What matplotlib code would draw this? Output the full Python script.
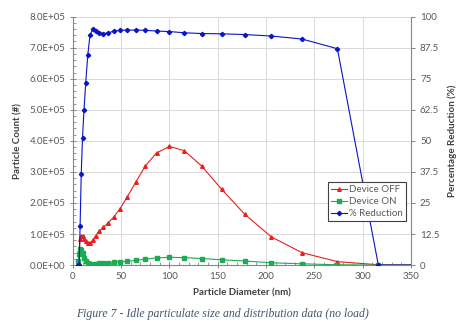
import matplotlib
matplotlib.use("Agg")
import matplotlib.pyplot as plt
from matplotlib.ticker import MultipleLocator, FuncFormatter, AutoMinorLocator
from matplotlib.lines import Line2D

# Particle diameter bins (nm)
diameter = [5.62, 6.49, 7.50, 8.66, 10.0, 11.55, 13.34, 15.4, 17.78, 20.54,
            23.71, 27.38, 31.62, 36.52, 42.17, 48.7, 56.23, 64.94, 74.99, 86.6,
            100.0, 115.48, 133.35, 154.0, 177.83, 205.35, 237.14, 273.84, 316.23, 365.17]

# Device OFF particle count (#)
device_off = [0.02e5, 0.45e5, 0.85e5, 0.93e5, 0.93e5, 0.85e5, 0.78e5, 0.72e5, 0.70e5, 0.80e5,
              0.95e5, 1.10e5, 1.22e5, 1.36e5, 1.54e5, 1.81e5, 2.19e5, 2.66e5, 3.19e5, 3.61e5,
              3.82e5, 3.68e5, 3.19e5, 2.44e5, 1.64e5, 0.91e5, 0.40e5, 0.11e5, 0.01e5, 0.0]

# Device ON particle count (#)
device_on = [0.12e5, 0.35e5, 0.52e5, 0.50e5, 0.38e5, 0.24e5, 0.13e5, 0.07e5, 0.05e5, 0.045e5,
             0.05e5, 0.06e5, 0.07e5, 0.08e5, 0.09e5, 0.10e5, 0.12e5, 0.15e5, 0.19e5, 0.23e5,
             0.25e5, 0.24e5, 0.21e5, 0.17e5, 0.13e5, 0.075e5, 0.04e5, 0.01e5, 0.0, 0.0]

# Percentage reduction (%)
reduction = [0.0, 0.0, 15.6, 36.6, 51.3, 62.5, 73.4, 84.4, 92.6, 94.9,
             94.2, 93.5, 93.2, 93.5, 94.1, 94.5, 94.6, 94.6, 94.5, 94.2,
             94.0, 93.5, 93.2, 93.1, 92.8, 92.2, 91.0, 87.1, 0.0, 0.0]

left_ticks_max = 8.0e5
x_max = 350

plt.rcParams['font.family'] = ['Lato', 'DejaVu Sans']

fig = plt.figure(figsize=(4.67, 3.33), dpi=100)
ax = fig.add_axes([0.156, 0.204, 0.724, 0.746])
ax2 = ax.twinx()

gray = '#595959'
spine_c = '#868686'
grid_c = '#D9D9D9'

ax.plot(diameter, device_off, color='#E8201E', lw=0.8, marker='^', ms=2.6, label='Device OFF', zorder=3)
ax.plot(diameter, device_on, color='#1DAA55', lw=0.8, marker='s', ms=2.3, label='Device ON', zorder=3)
ax2.plot(diameter, reduction, color='#0A14C8', lw=0.8, marker='D', ms=2.2, label='% Reduction', zorder=3)

ax.set_xlim(0, x_max)
ax.set_ylim(0, left_ticks_max)
ax2.set_ylim(0, 100)

ax.xaxis.set_major_locator(MultipleLocator(50))
ax.xaxis.set_minor_locator(MultipleLocator(10))
ax.yaxis.set_major_locator(MultipleLocator(1e5))
ax.yaxis.set_minor_locator(MultipleLocator(0.2e5))
ax2.yaxis.set_major_locator(MultipleLocator(12.5))
ax.yaxis.set_major_formatter(FuncFormatter(lambda v, p: '{:.1E}'.format(v)))
ax2.yaxis.set_major_formatter(FuncFormatter(lambda v, p: '{:g}'.format(v)))

ax.grid(True, which='major', color=grid_c, lw=0.7)
ax.set_axisbelow(True)

for a in (ax, ax2):
    a.spines['top'].set_visible(False)
    for s in ('left', 'right', 'bottom'):
        a.spines[s].set_color(spine_c)
        a.spines[s].set_linewidth(0.8)
ax.spines['right'].set_visible(False)
ax2.spines['left'].set_visible(False)
ax2.spines['bottom'].set_visible(False)

ax.tick_params(axis='both', which='major', labelsize=7, colors=spine_c, labelcolor=gray,
               direction='inout', length=4, width=0.7)
ax.tick_params(axis='both', which='minor', colors=spine_c, direction='in', length=2, width=0.6)
ax.tick_params(axis='x', which='major', pad=3)
ax2.tick_params(axis='y', which='major', labelsize=7, colors=spine_c, labelcolor=gray,
                direction='out', length=3, width=0.7)

ax.set_xlabel('Particle Diameter (nm)', fontsize=7, fontweight='bold', color='#404040', labelpad=5)
ax.set_ylabel('Particle Count (#)', fontsize=7, fontweight='bold', color='#404040', labelpad=5)
ax2.set_ylabel('Percentage Reduction (%)', fontsize=7, fontweight='bold', color='#404040', labelpad=6)

handles = [Line2D([], [], color='#E8201E', lw=0.8, marker='^', ms=2.6),
           Line2D([], [], color='#1DAA55', lw=0.8, marker='s', ms=2.3),
           Line2D([], [], color='#0A14C8', lw=0.8, marker='D', ms=2.2)]
leg = ax2.legend(handles, ['Device OFF', 'Device ON', '% Reduction'],
                 loc='upper left', bbox_to_anchor=(0.754, 0.335), fontsize=7,
                 frameon=True, fancybox=False, edgecolor='#404040', framealpha=1,
                 handlelength=1.6, handletextpad=0.2, borderpad=0.35, labelspacing=0.3,
                 borderaxespad=0)
leg.get_frame().set_linewidth(0.8)
for t in leg.get_texts():
    t.set_color(gray)

fig.text(0.477, 0.058, 'Figure 7 - Idle particulate size and distribution data (no load)',
         ha='center', va='center', fontsize=8.5, style='italic', family='Liberation Serif',
         color='#44546A')

fig.savefig('out.png', dpi=100)
